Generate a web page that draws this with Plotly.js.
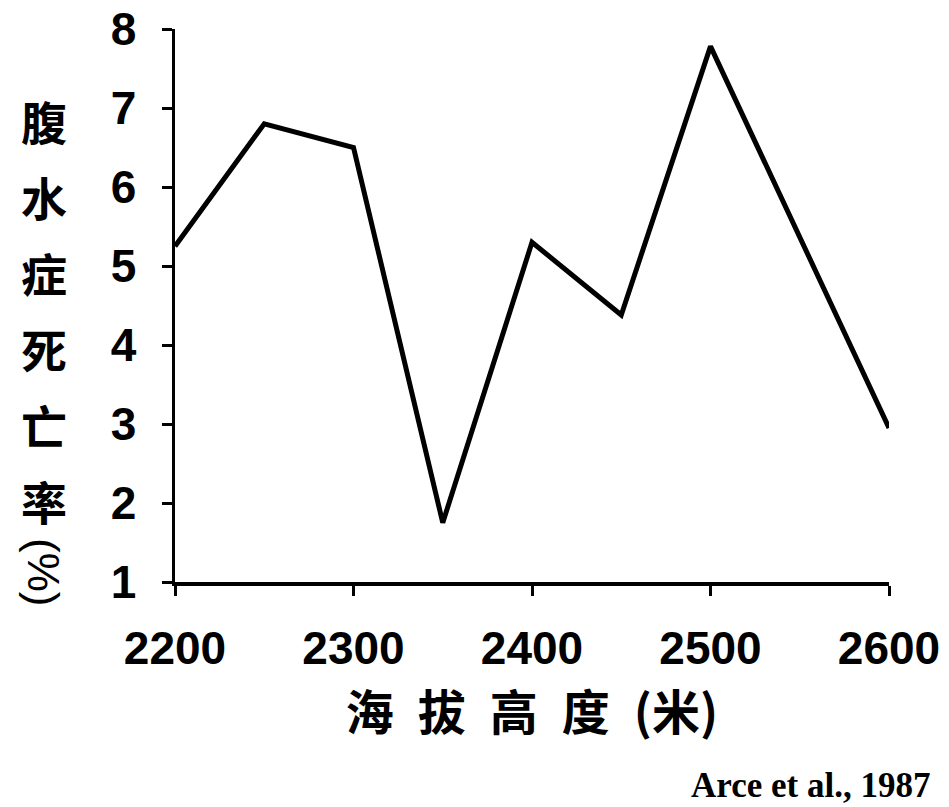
<!DOCTYPE html>
<html>
<head>
<meta charset="utf-8">
<script src="https://cdn.plot.ly/plotly-3.0.1.min.js"></script>
<style>html,body{margin:0;padding:0;background:#fff;}#chart{width:949px;height:807px;}</style>
</head>
<body>
<div id="chart"></div>
<script>
// Data
const altitude = [2200, 2250, 2300, 2350, 2400, 2450, 2500, 2600];
const mortality = [5.25, 6.8, 6.5, 1.75, 5.3, 4.38, 7.78, 2.95];
const xTicks = [2200, 2300, 2400, 2500, 2600];
const yTicks = [1, 2, 3, 4, 5, 6, 7, 8];
const yTitleChars = ["腹", "水", "症", "死", "亡", "率"];
const yTitleTail = "(%)";
const xTitle = "海\u2002拔\u2002高\u2002度\u2002(米)";
const sourceNote = "Arce et al., 1987";

const W = 949, H = 807;
const M = {l: 175, r: 60, t: 29, b: 225};
const plotH = H - M.t - M.b, plotW = W - M.l - M.r;
const px2paperY = py => (H - M.b - py) / plotH;
const px2paperX = px => (px - M.l) / plotW;

const cjk = '"Noto Sans CJK SC", "Noto Sans", sans-serif';
const sans = '"Liberation Sans", Arial, sans-serif';

const annotations = yTitleChars.map((c, i) => ({
  text: c, xref: 'paper', yref: 'paper',
  x: px2paperX(44), y: px2paperY(120 + i * 76),
  xanchor: 'center', yanchor: 'middle', showarrow: false,
  font: {family: cjk, size: 46, color: '#000', weight: 'bold'}
}));
annotations.push({
  text: yTitleTail, xref: 'paper', yref: 'paper',
  x: px2paperX(44), y: px2paperY(572), textangle: 90,
  xanchor: 'center', yanchor: 'middle', showarrow: false,
  font: {family: sans, size: 44, color: '#000'}
});
annotations.push({
  text: sourceNote, xref: 'paper', yref: 'paper',
  x: px2paperX(932), y: px2paperY(785),
  xanchor: 'right', yanchor: 'middle', showarrow: false,
  font: {family: '"Liberation Serif", "Times New Roman", serif', size: 35, color: '#000', weight: 'bold'}
});

const trace = {
  x: altitude, y: mortality, type: 'scatter', mode: 'lines',
  line: {color: '#000', width: 5},
  hoverinfo: 'x+y'
};

const layout = {
  width: W, height: H,
  margin: M,
  paper_bgcolor: '#fff', plot_bgcolor: '#fff',
  showlegend: false,
  xaxis: {
    range: [2200, 2600], tickmode: 'array', tickvals: xTicks,
    ticktext: xTicks.map(String),
    showgrid: false, zeroline: false,
    showline: true, linecolor: '#000', linewidth: 3.5,
    ticks: 'outside', ticklen: 10, tickwidth: 3, tickcolor: '#000',
    ticklabelstandoff: 13,
    tickfont: {family: sans, size: 46, color: '#000', weight: 'bold'},
    title: {text: xTitle, standoff: 18, font: {family: cjk, size: 48, color: '#000', weight: 'bold'}}
  },
  yaxis: {
    range: [1, 8], tickmode: 'array', tickvals: yTicks,
    ticktext: yTicks.map(String),
    showgrid: false, zeroline: false,
    showline: true, linecolor: '#000', linewidth: 3.5,
    ticks: 'outside', ticklen: 10, tickwidth: 3, tickcolor: '#000',
    ticklabelstandoff: 16,
    tickfont: {family: sans, size: 46, color: '#000', weight: 'bold'}
  },
  annotations: annotations
};

Plotly.newPlot('chart', [trace], layout, {displayModeBar: false, staticPlot: true});
</script>
</body>
</html>
